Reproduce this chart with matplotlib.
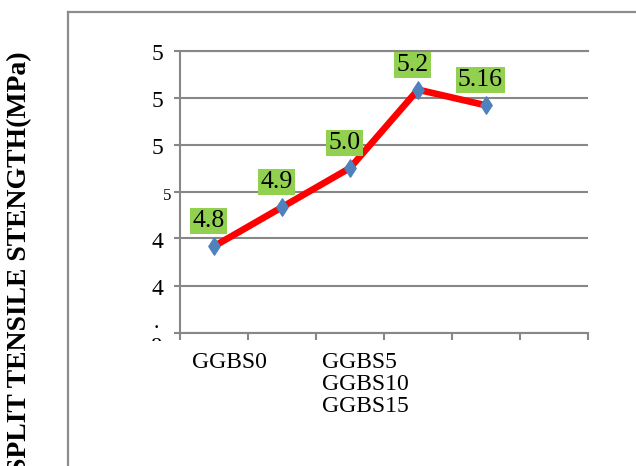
import matplotlib
matplotlib.use("Agg")
import matplotlib.pyplot as plt
import numpy as np
from matplotlib.path import Path
from matplotlib.lines import Line2D
from matplotlib.transforms import ScaledTranslation, Bbox, TransformedBbox

# --- data -------------------------------------------------------------
categories = ["GGBS0", "", "GGBS5\nGGBS10\nGGBS15", "", "", ""]
strength = [4.8, 4.9, 5.0, 5.2, 5.16]
point_labels = ["4.8", "4.9", "5.0", "5.2", "5.16"]
y_ticklabels = ["", "4", "4", "5", "5", "5", "5"]   # bottom to top
y_label = "SPLIT TENSILE STENGTH(MPa)"

plt.rcParams["font.family"] = ["Liberation Serif", "DejaVu Serif"]

W, H = 636, 466
fig = plt.figure(figsize=(W / 100, H / 100), dpi=100)
ax = fig.add_axes([180 / W, 1 - 332.5 / H, (588 - 180) / W, (332.5 - 50.5) / H])

grey = "#878787"
ylo, yhi = 4.58, 5.30
yt = np.linspace(ylo, yhi, 7)
ax.set_ylim(ylo, yhi)
ax.set_xlim(-0.5, len(categories) - 0.5)

# horizontal gridlines, including the top one
ax.set_yticks(yt)
ax.grid(axis="y", color=grey, lw=1.5, zorder=1)
ax.set_axisbelow(True)
for v in [yhi]:
    ax.plot([0, 1], [v, v], transform=ax.get_yaxis_transform(), color=grey,
            lw=1.5, clip_on=False, zorder=2)

# spines
ax.spines["right"].set_visible(False)
ax.spines["top"].set_visible(False)
for s in ["left", "bottom"]:
    ax.spines[s].set_color(grey)
    ax.spines[s].set_linewidth(1.5)

# y ticks (labels drawn as individual texts)
ax.set_yticklabels([""] * len(yt))
ax.tick_params(axis="y", length=4, width=1.5, color=grey, direction="out")
ysizes = [16, 17, 17, 12, 17, 17, 17]
ydx = [0, 0, 0, 8, 0, 0, 0]
for v, lab, fs, dx in zip(yt, y_ticklabels, ysizes, ydx):
    if lab:
        t = ax.text(0, v, lab, ha="right", va="center", fontsize=fs)
        t.set_transform(ax.get_yaxis_transform()
                        + ScaledTranslation((-17 + dx) / 100, -4 / 100,
                                            fig.dpi_scale_trans))

# bottom tick label, cut off below the axis
bt = ax.text(0, ylo, "\u00b7\n8", ha="center", va="center", fontsize=16,
             linespacing=0.9)
bt.set_transform(ax.get_yaxis_transform()
                 + ScaledTranslation(-24 / 100, -6 / 100, fig.dpi_scale_trans))
bt.set_clip_box(TransformedBbox(Bbox([[0, 1 - 341 / H], [1, 1]]), fig.transFigure))
bt.set_clip_on(True)

# x ticks: boundaries as minor ticks, labels at category centres
x = np.arange(len(categories))
ax.set_xticks(np.arange(-0.5, len(categories), 1.0), minor=True)
ax.tick_params(axis="x", which="minor", length=5, width=1.5, color=grey,
               direction="out")
ax.set_xticks(x)
ax.set_xticklabels(categories, fontsize=17, ha="left", linespacing=1.05)
ax.tick_params(axis="x", which="major", length=0, pad=14)
xoff = [-22, 0, -28, 0, 0, 0]
for lab, dx in zip(ax.get_xticklabels(), xoff):
    lab.set_transform(lab.get_transform()
                      + ScaledTranslation(dx / 100, 0, fig.dpi_scale_trans))

# series
diamond = Path([(0, 1), (0.65, 0), (0, -1), (-0.65, 0), (0, 1)],
               [Path.MOVETO, Path.LINETO, Path.LINETO, Path.LINETO, Path.CLOSEPOLY])
xs = x[:len(strength)]
ax.plot(xs, strength, color="#FF0000", lw=4.8, zorder=3, solid_capstyle="butt")
ax.plot(xs, strength, ls="none", marker=diamond, markersize=12.5,
        markerfacecolor="#4F81BD", markeredgecolor="#4F81BD", zorder=4)

for xi, v, lab in zip(xs, strength, point_labels):
    ax.annotate(lab, (xi, v), xytext=(-4, 18), textcoords="offset points",
                ha="center", va="center", fontsize=18.5, zorder=5,
                bbox=dict(boxstyle="square,pad=0.08", facecolor="#92D050",
                          edgecolor="none"),
                annotation_clip=False)

# outer frame
fig.add_artist(Line2D([68 / W, 1], [1 - 12 / H] * 2, transform=fig.transFigure,
                      color="#8c8c8c", lw=1.6))
fig.add_artist(Line2D([68 / W] * 2, [0, 1 - 12 / H], transform=fig.transFigure,
                      color="#8c8c8c", lw=1.6))

# axis title
fig.text(20 / W, 1 - 51 / H, y_label, rotation=90, ha="center", va="top",
         fontsize=20, fontweight="bold")

fig.savefig("out.png", dpi=100)
